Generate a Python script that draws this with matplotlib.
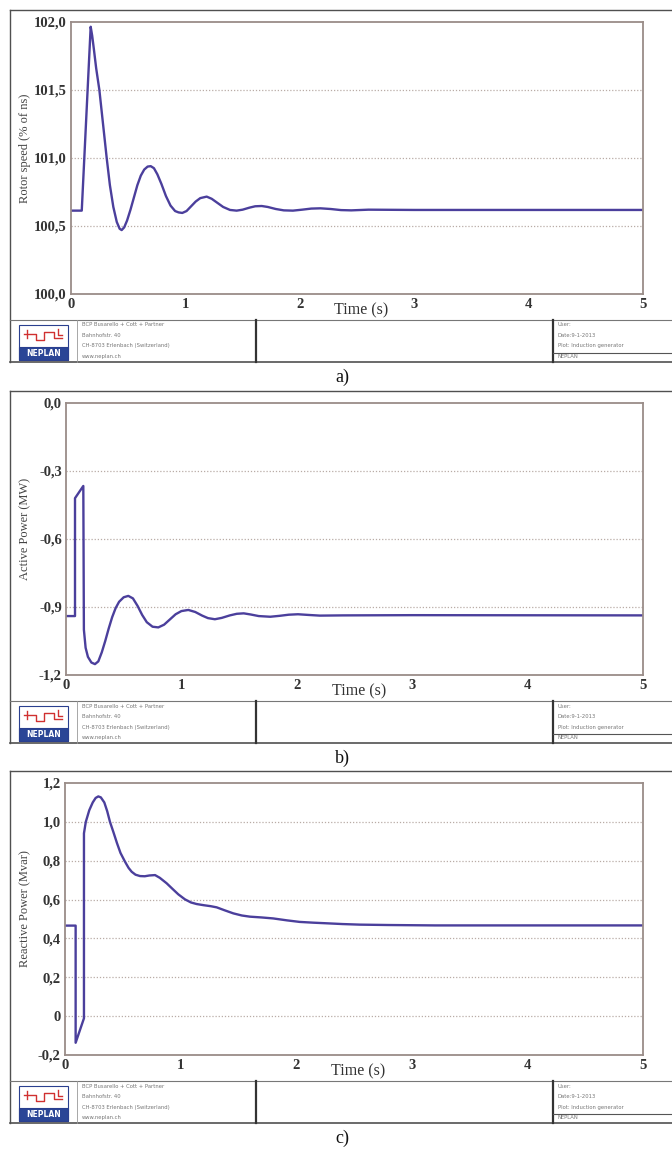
import numpy as np
import matplotlib
matplotlib.use("Agg")
import matplotlib.pyplot as plt
from matplotlib.patches import Rectangle

plt.rcParams['font.family'] = ['Liberation Serif', 'DejaVu Serif']

# rotor speed (% of ns)
t_speed = [0.0, 0.094, 0.172, 0.185, 0.20, 0.22, 0.248, 0.28, 0.312, 0.34, 0.37, 0.40,
           0.425, 0.443, 0.465, 0.49, 0.52, 0.55, 0.58, 0.61, 0.64, 0.67, 0.697, 0.725,
           0.755, 0.79, 0.83, 0.87, 0.91, 0.94, 0.973, 1.01, 1.05, 1.09, 1.13, 1.186,
           1.23, 1.28, 1.33, 1.39, 1.448, 1.50, 1.56, 1.61, 1.667, 1.72, 1.79, 1.86,
           1.94, 2.02, 2.10, 2.18, 2.27, 2.36, 2.45, 2.6, 3.0, 4.0, 5.0]
speed = [100.613, 100.613, 101.965, 101.90, 101.80, 101.66, 101.50, 101.25, 101.00,
         100.80, 100.64, 100.53, 100.48, 100.47, 100.49, 100.54, 100.62, 100.71, 100.80,
         100.87, 100.915, 100.937, 100.94, 100.925, 100.88, 100.81, 100.72, 100.65,
         100.61, 100.60, 100.596, 100.61, 100.645, 100.68, 100.705, 100.716, 100.70,
         100.67, 100.64, 100.618, 100.613, 100.62, 100.635, 100.645, 100.647, 100.64,
         100.625, 100.615, 100.613, 100.62, 100.628, 100.63, 100.625, 100.617, 100.615,
         100.62, 100.618, 100.618, 100.618]

# active power (MW)
t_p = [0.0, 0.078, 0.078, 0.15, 0.155, 0.17, 0.19, 0.22, 0.251, 0.28, 0.31, 0.34, 0.37,
       0.40, 0.43, 0.46, 0.50, 0.54, 0.58, 0.62, 0.66, 0.70, 0.75, 0.80, 0.85, 0.90,
       0.95, 1.00, 1.06, 1.12, 1.18, 1.23, 1.29, 1.35, 1.42, 1.48, 1.54, 1.60, 1.67,
       1.77, 1.85, 1.93, 2.01, 2.10, 2.2, 2.4, 3.0, 5.0]
p_active = [-0.94, -0.94, -0.42, -0.366, -1.00, -1.08, -1.12, -1.145, -1.152, -1.14,
            -1.10, -1.05, -0.995, -0.945, -0.905, -0.877, -0.857, -0.851, -0.862, -0.895,
            -0.935, -0.967, -0.987, -0.99, -0.978, -0.955, -0.932, -0.918, -0.913,
            -0.922, -0.938, -0.949, -0.954, -0.948, -0.937, -0.93, -0.928, -0.933, -0.94,
            -0.943, -0.939, -0.934, -0.932, -0.935, -0.938, -0.937, -0.936, -0.937]

# reactive power (Mvar)
t_q = [0.0, 0.092, 0.092, 0.164, 0.164, 0.18, 0.21, 0.24, 0.265, 0.288, 0.31, 0.34,
       0.365, 0.389, 0.42, 0.45, 0.48, 0.519, 0.55, 0.577, 0.61, 0.649, 0.69, 0.73,
       0.779, 0.82, 0.879, 0.93, 0.98, 1.038, 1.09, 1.139, 1.2, 1.26, 1.312, 1.38,
       1.456, 1.53, 1.60, 1.70, 1.80, 1.92, 2.03, 2.15, 2.26, 2.4, 2.55, 2.8, 3.2, 5.0]
q_reactive = [0.466, 0.466, -0.137, -0.011, 0.941, 1.0, 1.06, 1.10, 1.123, 1.131, 1.126,
              1.10, 1.055, 1.0, 0.945, 0.89, 0.84, 0.795, 0.763, 0.743, 0.728, 0.721,
              0.72, 0.724, 0.726, 0.712, 0.684, 0.655, 0.627, 0.601, 0.585, 0.577,
              0.571, 0.566, 0.56, 0.545, 0.529, 0.518, 0.512, 0.508, 0.503, 0.493,
              0.485, 0.481, 0.478, 0.474, 0.471, 0.469, 0.467, 0.467]

x_ticks = [0, 1, 2, 3, 4, 5]
panels = [
    dict(t=t_speed, y=speed, yticks=[100.0, 100.5, 101.0, 101.5, 102.0],
         ylabels=['100,0', '100,5', '101,0', '101,5', '102,0'],
         ylabel='Rotor speed (% of ns)', caption='a)', top=10, left=71),
    dict(t=t_p, y=p_active, yticks=[-1.2, -0.9, -0.6, -0.3, 0.0],
         ylabels=['-1,2', '-0,9', '-0,6', '-0,3', '0,0'],
         ylabel='Active Power (MW)', caption='b)', top=391, left=66),
    dict(t=t_q, y=q_reactive, yticks=[-0.2, 0.0, 0.2, 0.4, 0.6, 0.8, 1.0, 1.2],
         ylabels=['-0,2', '0', '0,2', '0,4', '0,6', '0,8', '1,0', '1,2'],
         ylabel='Reactive Power (Mvar)', caption='c)', top=771, left=65),
]

footer_left = ['BCP Busarello + Cott + Partner', 'Bahnhofstr. 40',
               'CH-8703 Erlenbach (Switzerland)', 'www.neplan.ch']
footer_right = ['User:', 'Date:9-1-2013', 'Plot: Induction generator', 'NEPLAN']

W, H = 672, 1149
fig = plt.figure(figsize=(W / 100, H / 100), dpi=100)
fig.patch.set_facecolor('white')

# pixel-space layer for frames, footers and captions
bg = fig.add_axes([0, 0, 1, 1], zorder=0)
bg.set_xlim(0, W)
bg.set_ylim(H, 0)
bg.axis('off')

line_col = '#4b3f9c'
spine_col = '#9a8c88'
grid_col = '#b9aca6'
frame_col = '#505050'

for pn in panels:
    T = pn['top']
    ax_top, ax_bot, ax_l, ax_r = T + 12, T + 284, pn['left'], 643
    ax = fig.add_axes([ax_l / W, 1 - ax_bot / H, (ax_r - ax_l) / W, (ax_bot - ax_top) / H],
                      zorder=2)
    ax.plot(pn['t'], pn['y'], color=line_col, lw=1.7, solid_joinstyle='round')
    ax.set_xlim(0, 5)
    ax.set_ylim(pn['yticks'][0], pn['yticks'][-1])
    ax.set_xticks(x_ticks)
    ax.set_xticklabels([str(v) for v in x_ticks])
    ax.set_yticks(pn['yticks'])
    ax.set_yticklabels(pn['ylabels'])
    ax.tick_params(length=0, labelsize=10.5, colors='#333333', pad=3)
    for lab in ax.get_xticklabels() + ax.get_yticklabels():
        lab.set_fontweight('bold')
    for yv in pn['yticks'][1:-1]:
        ax.axhline(yv, color=grid_col, lw=0.9, ls=(0, (1, 1.5)), zorder=0)
    for s in ax.spines.values():
        s.set_color(spine_col)
        s.set_linewidth(1.3)
    ax.text(0.508, -0.062, 'Time (s)', transform=ax.transAxes, ha='center',
            va='center', fontsize=11.5, color='#333333')
    ax.text(25, (ax_top + ax_bot) / 2 - 10, pn['ylabel'], transform=bg.transData,
            rotation=90, ha='center', va='center', fontsize=9, color='#444444')

    # outer frame and footer block
    fb_top, fb_bot = T + 310, T + 352
    bg.plot([10, W], [T, T], color=frame_col, lw=1.0)
    bg.plot([10, 10], [T, fb_bot], color=frame_col, lw=1.0)
    bg.plot([10, W], [fb_top, fb_top], color='#777777', lw=0.8)
    bg.plot([10, W], [fb_bot, fb_bot], color=frame_col, lw=1.2)
    bg.plot([77, 77], [fb_top, fb_bot], color='#999999', lw=0.6)
    bg.plot([256, 256], [fb_top, fb_bot], color='#333333', lw=1.6)
    bg.plot([553, 553], [fb_top, fb_bot], color='#333333', lw=1.6)
    bg.plot([553, W], [T + 343, T + 343], color='#555555', lw=0.8)

    # NEPLAN logo
    bg.add_patch(Rectangle((19, T + 315), 49, 35, facecolor='white',
                           edgecolor='#2a3f8f', lw=0.8))
    bg.add_patch(Rectangle((19, T + 337), 49, 13, facecolor='#2a4596',
                           edgecolor='#2a3f8f', lw=0.8))
    bg.text(43.5, T + 343.5, 'NEPLAN', ha='center', va='center', fontsize=5.5,
            color='white', family='DejaVu Sans', fontweight='bold')
    red = '#d03030'
    bg.plot([24, 36, 36, 44, 44, 54, 54, 62], [T + 324, T + 324, T + 330, T + 330,
            T + 322, T + 322, T + 328, T + 328], color=red, lw=1.0)
    bg.plot([27, 27], [T + 320, T + 328], color=red, lw=1.0)
    bg.plot([58, 58, 62], [T + 319, T + 325, T + 325], color=red, lw=1.0)

    for k, (sl, sr) in enumerate(zip(footer_left, footer_right)):
        yy = T + 315 + k * 10.5
        bg.text(82, yy, sl, fontsize=3.8, color='#777777', va='center',
                family='DejaVu Sans')
        bg.text(558, yy, sr, fontsize=3.8, color='#777777', va='center',
                family='DejaVu Sans')

    bg.text(342, T + 367, pn['caption'], ha='center', va='center', fontsize=13,
            color='#111111')

fig.savefig('out.png', dpi=100, facecolor='white')
